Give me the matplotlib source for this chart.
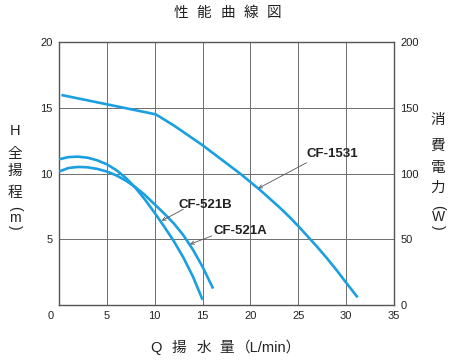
import matplotlib
matplotlib.use("Agg")
import matplotlib.pyplot as plt
from matplotlib.transforms import ScaledTranslation

# ---- data ----
q_1531 = [0.25, 10.1, 11, 12, 13, 14, 15, 16, 17, 18, 19, 20, 21, 22, 23, 24, 25, 26, 27, 28, 29, 30, 31.2]
h_1531 = [15.97, 14.5, 14.1, 13.65, 13.15, 12.65, 12.15, 11.6, 11.05, 10.5, 9.95, 9.35, 8.75, 8.1, 7.45,
          6.75, 6.0, 5.2, 4.4, 3.55, 2.65, 1.7, 0.58]

q_521b = [0, 1, 2, 3, 4, 5, 6, 7, 8, 9, 10, 11, 12, 13, 14, 15]
h_521b = [11.08, 11.25, 11.28, 11.2, 11.0, 10.7, 10.25, 9.65, 8.9, 8.0, 7.0, 5.95, 4.85, 3.6, 2.15, 0.4]

q_521a = [0, 1, 2, 3, 4, 5, 6, 7, 8, 9, 10, 11, 12, 13, 14, 15, 16.1]
h_521a = [10.15, 10.42, 10.5, 10.47, 10.35, 10.15, 9.85, 9.45, 8.95, 8.35, 7.65, 6.95, 6.2, 5.3, 4.2, 2.9, 1.25]

x_ticks = [0, 5, 10, 15, 20, 25, 30, 35]
h_ticks = [5, 10, 15, 20]
w_ticks = [0, 50, 100, 150, 200]

labels = ["CF-1531", "CF-521B", "CF-521A"]
label_xy = [(28.6, 11.48), (15.25, 7.6), (19.0, 5.6)]
arrow_from = [(25.87, 10.82), (12.99, 7.28), (15.95, 5.25)]
arrow_to = [(20.82, 8.87), (10.73, 6.41), (13.69, 4.62)]

title_chars = ["性", "能", "曲", "線", "図"]
ylabel_l = ["H", "全", "揚", "程"]
ylabel_r = ["消", "費", "電", "力"]

# ---- style ----
LAT = ["Liberation Sans", "Noto Sans CJK JP"]
CJK = ["Noto Sans CJK JP", "Liberation Sans"]
BLUE = "#1a9fe0"
GRID = "#6e6e6e"
TXT = "#222222"

W, H = 455, 361
fig = plt.figure(figsize=(W / 100, H / 100), dpi=100)
ax = fig.add_axes([59 / W, 1 - 305 / H, (394 - 59) / W, (305 - 42) / H])

for q, h in [(q_1531, h_1531), (q_521b, h_521b), (q_521a, h_521a)]:
    ax.plot(q, h, color=BLUE, lw=1.9, solid_capstyle="butt", zorder=3)

ax.set_xlim(0, 35)
ax.set_ylim(0, 20)
ax.set_xticks(x_ticks)
ax.set_yticks(h_ticks)
ax.grid(True, color=GRID, lw=0.7)
ax.tick_params(length=0, labelsize=8, labelcolor=TXT, pad=4.5)
for lab in ax.get_xticklabels() + ax.get_yticklabels():
    lab.set_family(LAT)
xl = ax.get_xticklabels()
xl[0].set_transform(xl[0].get_transform() + ScaledTranslation(-8 / 100, 0, fig.dpi_scale_trans))
for s in ax.spines.values():
    s.set_color("#555555")
    s.set_linewidth(1.0)

ax2 = ax.twinx()
ax2.set_ylim(0, 200)
ax2.set_yticks(w_ticks)
ax2.tick_params(length=0, labelsize=8, labelcolor=TXT, pad=4.5)
for lab in ax2.get_yticklabels():
    lab.set_family(LAT)
for s in ax2.spines.values():
    s.set_visible(False)

# curve labels and leader arrows
for txt, xy, a0, a1 in zip(labels, label_xy, arrow_from, arrow_to):
    ax.text(xy[0], xy[1], txt, fontsize=9.5, fontweight="bold", family=LAT,
            color="#222222", ha="center", va="center", zorder=5)
    ax.annotate("", xy=a1, xytext=a0,
                arrowprops=dict(arrowstyle="->", lw=0.6, color="#555555",
                                shrinkA=0, shrinkB=0, mutation_scale=6), zorder=4)

def ftxt(x, y, s, size=10.5, fam=CJK, **kw):
    fig.text(x / W, 1 - y / H, s, fontsize=size, family=fam, color=TXT,
             ha="center", va="center", **kw)

# title
for i, c in enumerate(title_chars):
    ftxt(180.5 + i * 23.5, 13, c)

# left axis label
lpos = [131, 153.5, 171, 193]
for c, y in zip(ylabel_l, lpos):
    ftxt(15, y, c, fam=LAT if c == "H" else CJK)
ftxt(15, 208, "(", size=10, fam=LAT, rotation=-90)
ftxt(15, 217.5, "m", size=10, fam=LAT)
ftxt(15, 227, ")", size=10, fam=LAT, rotation=-90)

# right axis label
rpos = [120, 146, 168, 188]
for c, y in zip(ylabel_r, rpos):
    ftxt(438, y, c)
ftxt(438, 207, "(", size=10, fam=LAT, rotation=-90)
ftxt(438, 217, "W", size=10, fam=LAT)
ftxt(438, 227.5, ")", size=10, fam=LAT, rotation=-90)

# x axis label
ftxt(156, 348, "Q", fam=LAT)
for c, x in zip(["揚", "水", "量"], [178.5, 203.5, 226.5]):
    ftxt(x, 348, c)
ftxt(268.5, 348, "（L/min）", fam=LAT)

fig.savefig("out.png", dpi=100)
